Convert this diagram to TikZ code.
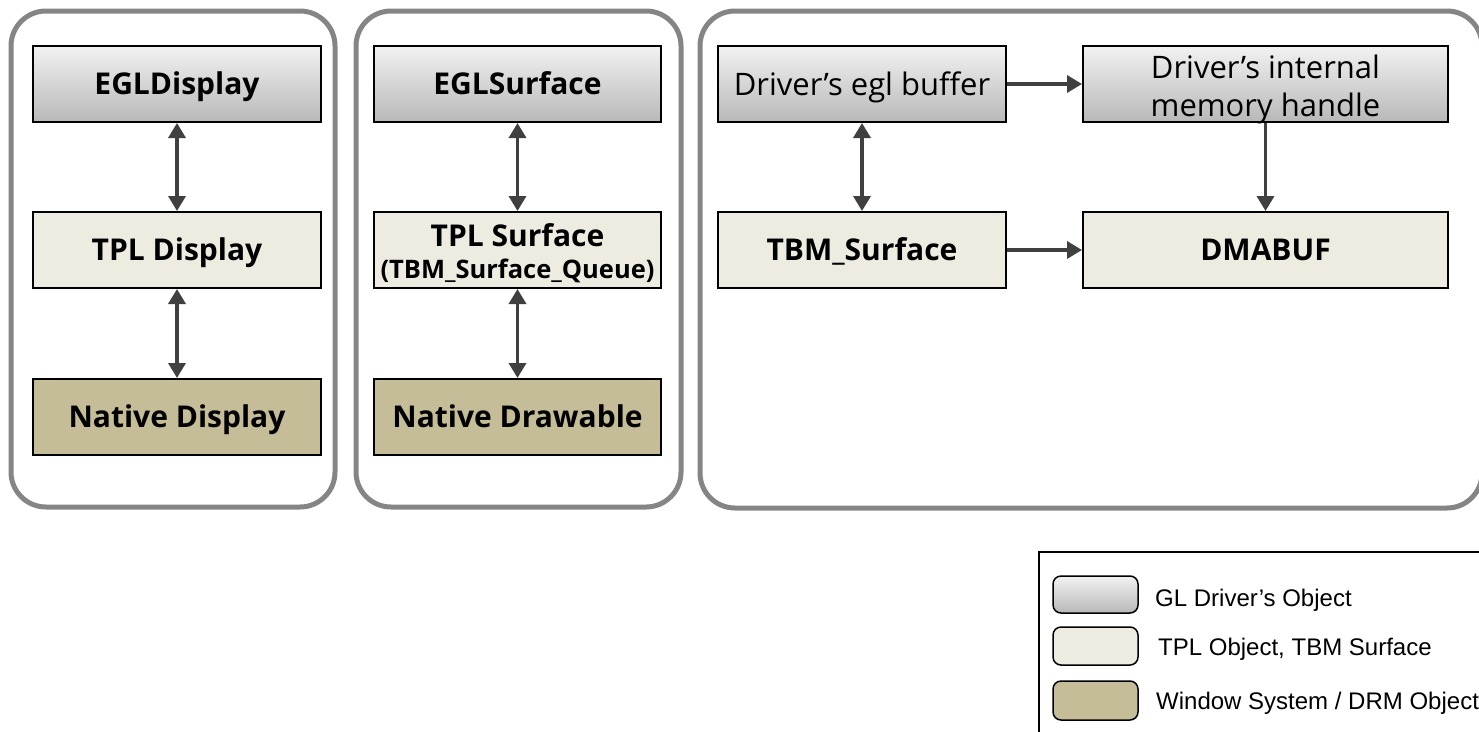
\documentclass[tikz,border=0pt]{standalone}
\usepackage{fontspec}
\setmainfont{Open Sans}
\newfontfamily\legendfont{Liberation Sans}
\usetikzlibrary{arrows.meta}
\definecolor{panelgray}{HTML}{858585}
\definecolor{glTop}{HTML}{F2F2F2}
\definecolor{glBot}{HTML}{B8B8B8}
\definecolor{tplfill}{HTML}{EEEBE0}
\definecolor{nativefill}{HTML}{C4BD97}
\definecolor{arrowgray}{HTML}{404040}
\begin{document}
\begin{tikzpicture}[x=1pt,y=-1pt,
  panel/.style={draw=panelgray,line width=5pt,rounded corners=35pt},
  objbox/.style={draw=black,line width=2pt,inner sep=0pt,align=center,
     minimum height=76pt,text=black},
  glbox/.style={objbox,top color=glTop,bottom color=glBot},
  tplbox/.style={objbox,fill=tplfill},
  natbox/.style={objbox,fill=nativefill},
  boldlab/.style={font=\fontsize{30}{36}\selectfont\bfseries,text height=25pt,text depth=3.6pt},
  reglab/.style={font=\fontsize{31}{38}\selectfont,text height=25.5pt,text depth=3.4pt},
  twolab/.style={inner sep=0pt,align=center,text=black},
  dbl/.style={draw=arrowgray,line width=3.5pt,{Triangle[length=15pt,width=17pt]}-{Triangle[length=15pt,width=17pt]}},
  sgl/.style={draw=arrowgray,line width=3.5pt,-{Triangle[length=15pt,width=17pt]}},
  swatch/.style={draw=black,line width=1.5pt,rounded corners=8pt},
  legtext/.style={anchor=base west,inner sep=0pt,font=\legendfont\fontsize{24}{28}\selectfont}
]
\clip (0,0) rectangle (1479,731);
\useasboundingbox (0,0) rectangle (1479,731);
% panels
\draw[panel] (11,11) rectangle (335,507);
\draw[panel] (356,11) rectangle (681,507);
\draw[panel] (700,11) rectangle (1482,508);
% left column
\node[glbox,boldlab,minimum width=288pt] (egld) at (177,84) {EGLDisplay};
\node[tplbox,boldlab,minimum width=288pt] (tpld) at (177,250) {TPL Display};
\node[natbox,boldlab,minimum width=288pt] (natd) at (177,417) {Native Display};
% middle column
\node[glbox,boldlab,minimum width=287pt] (egls) at (517.5,84) {EGLSurface};
\node[tplbox,minimum width=287pt,
  label={[twolab,yshift=-3pt,font=\fontsize{30}{34}\selectfont\bfseries]center:TPL Surface\\[-2pt]{\fontsize{25.5}{27}\selectfont (TBM\_Surface\_Queue)}}]
  (tpls) at (517.5,250) {};
\node[natbox,boldlab,minimum width=287pt] (natw) at (517.5,417) {Native Drawable};
% right panel
\node[glbox,reglab,minimum width=288pt] (eglb) at (862,84) {Driver’s egl buffer};
\node[tplbox,boldlab,minimum width=288pt] (tbms) at (862,250) {TBM\_Surface};
\node[glbox,minimum width=365pt,
  label={[twolab,yshift=-5pt,font=\fontsize{31}{38}\selectfont]center:Driver’s internal\\memory handle}]
  (memh) at (1265.5,84) {};
\node[tplbox,boldlab,minimum width=365pt] (dmab) at (1265.5,250) {DMABUF};
% connectors
\draw[dbl] (egld) -- (tpld);
\draw[dbl] (tpld) -- (natd);
\draw[dbl] (egls) -- (tpls);
\draw[dbl] (tpls) -- (natw);
\draw[dbl] (eglb) -- (tbms);
\draw[sgl] (eglb) -- (memh);
\draw[sgl] (tbms) -- (dmab);
\draw[sgl] (memh) -- (dmab);
% legend
\draw[black,line width=1.5pt] (1039,552) rectangle (1500,760);
\draw[swatch,top color=glTop,bottom color=glBot] (1053,576) rectangle (1138,613);
\draw[swatch,fill=tplfill] (1053,627) rectangle (1138,665);
\draw[swatch,fill=nativefill] (1053,681) rectangle (1138,720);
\node[legtext] (l1) at (1155,606) {GL Driver’s Object};
\node[legtext] (l2) at (1158,655) {TPL Object, TBM Surface};
\node[legtext] (l3) at (1156,709) {Window System / DRM Object};
\end{tikzpicture}
\end{document}
